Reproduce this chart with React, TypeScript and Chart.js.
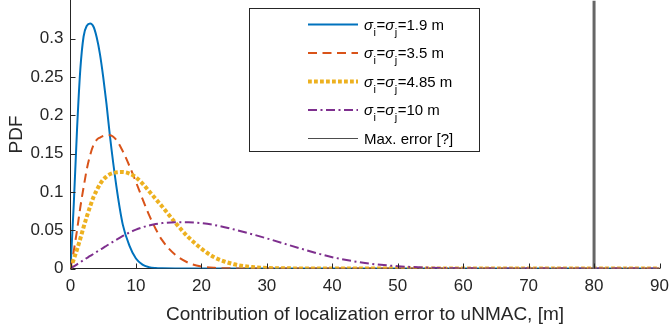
import React, { useEffect, useRef } from "react";
import { Chart, registerables } from "chart.js";

Chart.register(...registerables);

// ---- data ----
const xValues = [0, 0.5, 1, 1.5, 2, 2.5, 3, 3.5, 4, 4.5, 5, 5.5, 6, 7, 8, 9, 10, 11, 12, 13, 14, 16, 18, 20, 22, 25, 28, 30, 35, 40, 45, 50, 55, 60, 70, 80, 90];

const pdfSigma19 = [0, 0.084, 0.182, 0.26, 0.303, 0.317, 0.32, 0.316, 0.302, 0.28, 0.25, 0.215, 0.175, 0.108, 0.057, 0.03, 0.013, 0.005, 0.0018, 0.0006, 0.0002, 0, 0, 0, 0, 0, 0, 0, 0, 0, 0, 0, 0, 0, 0, 0, 0];
const pdfSigma35 = [0, 0.023, 0.05, 0.08, 0.106, 0.13, 0.148, 0.161, 0.168, 0.171, 0.173, 0.1738, 0.174, 0.168, 0.153, 0.134, 0.113, 0.091, 0.07, 0.052, 0.037, 0.018, 0.0075, 0.0027, 0.0009, 0.0002, 0, 0, 0, 0, 0, 0, 0, 0, 0, 0, 0];
const pdfSigma485 = [0, 0.012, 0.025, 0.039, 0.054, 0.068, 0.081, 0.093, 0.102, 0.11, 0.116, 0.12, 0.123, 0.1255, 0.126, 0.124, 0.119, 0.111, 0.101, 0.091, 0.081, 0.06, 0.041, 0.026, 0.0145, 0.0055, 0.0017, 0.0007, 0.0001, 0, 0, 0, 0, 0, 0, 0, 0];
const pdfSigma10 = [0, 0.0027, 0.0055, 0.0082, 0.011, 0.0137, 0.0164, 0.019, 0.0218, 0.0245, 0.027, 0.0297, 0.0323, 0.0375, 0.0425, 0.047, 0.0508, 0.0538, 0.0562, 0.058, 0.0593, 0.0604, 0.0603, 0.0592, 0.0567, 0.051, 0.0442, 0.0393, 0.0265, 0.0148, 0.0072, 0.003, 0.001, 0.0003, 0, 0, 0];

const maxErrorX = 80;
const xMin = 0;
const xMax = 90;
const yMin = 0;
const yMax = 0.35;
const xTicks = [0, 10, 20, 30, 40, 50, 60, 70, 80, 90];
const yTicks = [0, 0.05, 0.1, 0.15, 0.2, 0.25, 0.3];

const seriesLabels = [
  "σ_i=σ_j=1.9 m",
  "σ_i=σ_j=3.5 m",
  "σ_i=σ_j=4.85 m",
  "σ_i=σ_j=10 m",
  "Max. error [?]",
];
const xTitle = "Contribution of localization error to uNMAC, [m]";
const yTitle = "PDF";

// ---- styling ----
const FONT = '"Liberation Sans", Arial, Helvetica, sans-serif';
const AXIS_COLOR = "#262626";

const toPoints = (ys: number[]) => xValues.map((x, i) => ({ x, y: ys[i] }));

function drawRichLabel(ctx: CanvasRenderingContext2D, text: string, x: number, yCenter: number) {
  const base = yCenter + 5.4;
  const re = /(σ)|_(\w)|([^σ_]+)/g;
  let m: RegExpExecArray | null;
  let cx = x;
  ctx.textBaseline = "alphabetic";
  ctx.textAlign = "left";
  while ((m = re.exec(text)) !== null) {
    if (m[1]) {
      ctx.font = `italic 15px ${FONT}`;
      ctx.fillText(m[1], cx, base);
      cx += ctx.measureText(m[1]).width;
    } else if (m[2]) {
      ctx.font = `11px ${FONT}`;
      ctx.fillText(m[2], cx + 0.5, base + 6);
      cx += ctx.measureText(m[2]).width + 1;
    } else if (m[3]) {
      ctx.font = `15px ${FONT}`;
      ctx.fillText(m[3], cx, base);
      cx += ctx.measureText(m[3]).width;
    }
  }
}

const matlabLegend = {
  id: "matlabLegend",
  afterDraw(chart: any) {
    const ctx: CanvasRenderingContext2D = chart.ctx;
    const left = 249.5, top = 8.5, right = 479.5, bottom = 151.5;
    ctx.save();
    ctx.fillStyle = "#ffffff";
    ctx.fillRect(left, top, right - left, bottom - top);
    ctx.strokeStyle = AXIS_COLOR;
    ctx.lineWidth = 1;
    ctx.setLineDash([]);
    ctx.strokeRect(left, top, right - left, bottom - top);
    const rowStart = 24.5;
    const rowGap = 28.5;
    chart.data.datasets.forEach((ds: any, i: number) => {
      const y = rowStart + i * rowGap;
      ctx.save();
      ctx.beginPath();
      ctx.setLineDash(ds.borderDash || []);
      ctx.lineCap = ds.borderCapStyle || "butt";
      ctx.lineWidth = ds.legendLineWidth ?? ds.borderWidth;
      ctx.strokeStyle = ds.legendColor ?? ds.borderColor;
      ctx.moveTo(308, y);
      ctx.lineTo(358, y);
      ctx.stroke();
      ctx.restore();
      ctx.fillStyle = "#000000";
      drawRichLabel(ctx, ds.label, 364, y);
    });
    ctx.restore();
  },
};

const inwardTicks = {
  id: "inwardTicks",
  afterDatasetsDraw(chart: any) {
    const { ctx, chartArea, scales } = chart;
    const xs = scales.x;
    const ys = scales.y;
    ctx.save();
    ctx.strokeStyle = AXIS_COLOR;
    ctx.lineWidth = 1;
    ctx.setLineDash([]);
    ctx.beginPath();
    xs.ticks.forEach((t: any) => {
      const px = Math.round(xs.getPixelForValue(t.value)) + 0.5;
      ctx.moveTo(px, chartArea.bottom);
      ctx.lineTo(px, chartArea.bottom - 5);
    });
    ys.ticks.forEach((t: any) => {
      const py = Math.round(ys.getPixelForValue(t.value)) + 0.5;
      ctx.moveTo(chartArea.left, py);
      ctx.lineTo(chartArea.left + 5, py);
    });
    ctx.stroke();
    ctx.restore();
  },
};

export default function App() {
  const ref = useRef<HTMLCanvasElement>(null);

  useEffect(() => {
    if (!ref.current) return;
    const chart = new Chart(ref.current, {
      type: "line",
      data: {
        datasets: [
          {
            label: seriesLabels[0],
            data: toPoints(pdfSigma19),
            borderColor: "#0072BD",
            borderWidth: 2,
            order: 5,
          },
          {
            label: seriesLabels[1],
            data: toPoints(pdfSigma35),
            borderColor: "#D95319",
            borderWidth: 2,
            borderDash: [9, 5.5],
            order: 4,
          },
          {
            label: seriesLabels[2],
            data: toPoints(pdfSigma485),
            borderColor: "#EDB120",
            borderWidth: 4,
            borderDash: [3.8, 2.2],
            order: 3,
          },
          {
            label: seriesLabels[3],
            data: toPoints(pdfSigma10),
            borderColor: "#7E2F8E",
            borderWidth: 2,
            borderDash: [9, 3.5, 2, 3.5],
            order: 2,
          },
          {
            label: seriesLabels[4],
            data: [
              { x: maxErrorX, y: yMin },
              { x: maxErrorX, y: yMax },
            ],
            borderColor: "#666666",
            borderWidth: 3,
            legendLineWidth: 1,
            legendColor: "#4d4d4d",
            tension: 0,
            cubicInterpolationMode: "default",
            order: 1,
          } as any,
        ],
      },
      options: {
        animation: false,
        responsive: false,
        devicePixelRatio: 1,
        elements: {
          point: { radius: 0, hoverRadius: 0 },
          line: { cubicInterpolationMode: "monotone", fill: false },
        },
        layout: { padding: { left: 0, top: 0.5, right: 10.5, bottom: 0 } },
        plugins: {
          legend: { display: false },
          tooltip: { enabled: false },
        },
        scales: {
          x: {
            type: "linear",
            min: xMin,
            max: xMax,
            afterBuildTicks: (s: any) => {
              s.ticks = xTicks.map((v) => ({ value: v }));
            },
            afterFit: (s: any) => {
              s.height = 62.5;
              s.paddingLeft = 0;
              s.paddingRight = 0;
            },
            grid: { display: false, drawTicks: false },
            border: { display: true, color: AXIS_COLOR, width: 1 },
            ticks: {
              color: AXIS_COLOR,
              font: { family: FONT, size: 17 },
              padding: 8,
              maxRotation: 0,
              autoSkip: false,
              callback: (v: any) => String(v),
            },
            title: {
              display: true,
              text: xTitle,
              color: AXIS_COLOR,
              font: { family: FONT, size: 19 },
              padding: { top: 0, bottom: 5 },
            },
          },
          y: {
            type: "linear",
            min: yMin,
            max: yMax,
            afterBuildTicks: (s: any) => {
              s.ticks = yTicks.map((v) => ({ value: v }));
            },
            afterFit: (s: any) => {
              s.width = 70.5;
              s.paddingTop = 0;
              s.paddingBottom = 0;
            },
            grid: { display: false, drawTicks: false },
            border: { display: true, color: AXIS_COLOR, width: 1 },
            ticks: {
              color: AXIS_COLOR,
              font: { family: FONT, size: 17 },
              padding: 7,
              callback: (v: any) => String(+Number(v).toFixed(2)),
            },
            title: {
              display: true,
              text: yTitle,
              color: AXIS_COLOR,
              font: { family: FONT, size: 19 },
              padding: { top: 5, bottom: 0 },
            },
          },
        },
      },
      plugins: [inwardTicks, matlabLegend],
    } as any);
    return () => chart.destroy();
  }, []);

  return (
    <div style={{ position: "absolute", left: 0, top: 0, width: 670, height: 331, background: "#ffffff" }}>
      <canvas ref={ref} width={670} height={331} style={{ display: "block", width: 670, height: 331 }} />
    </div>
  );
}
